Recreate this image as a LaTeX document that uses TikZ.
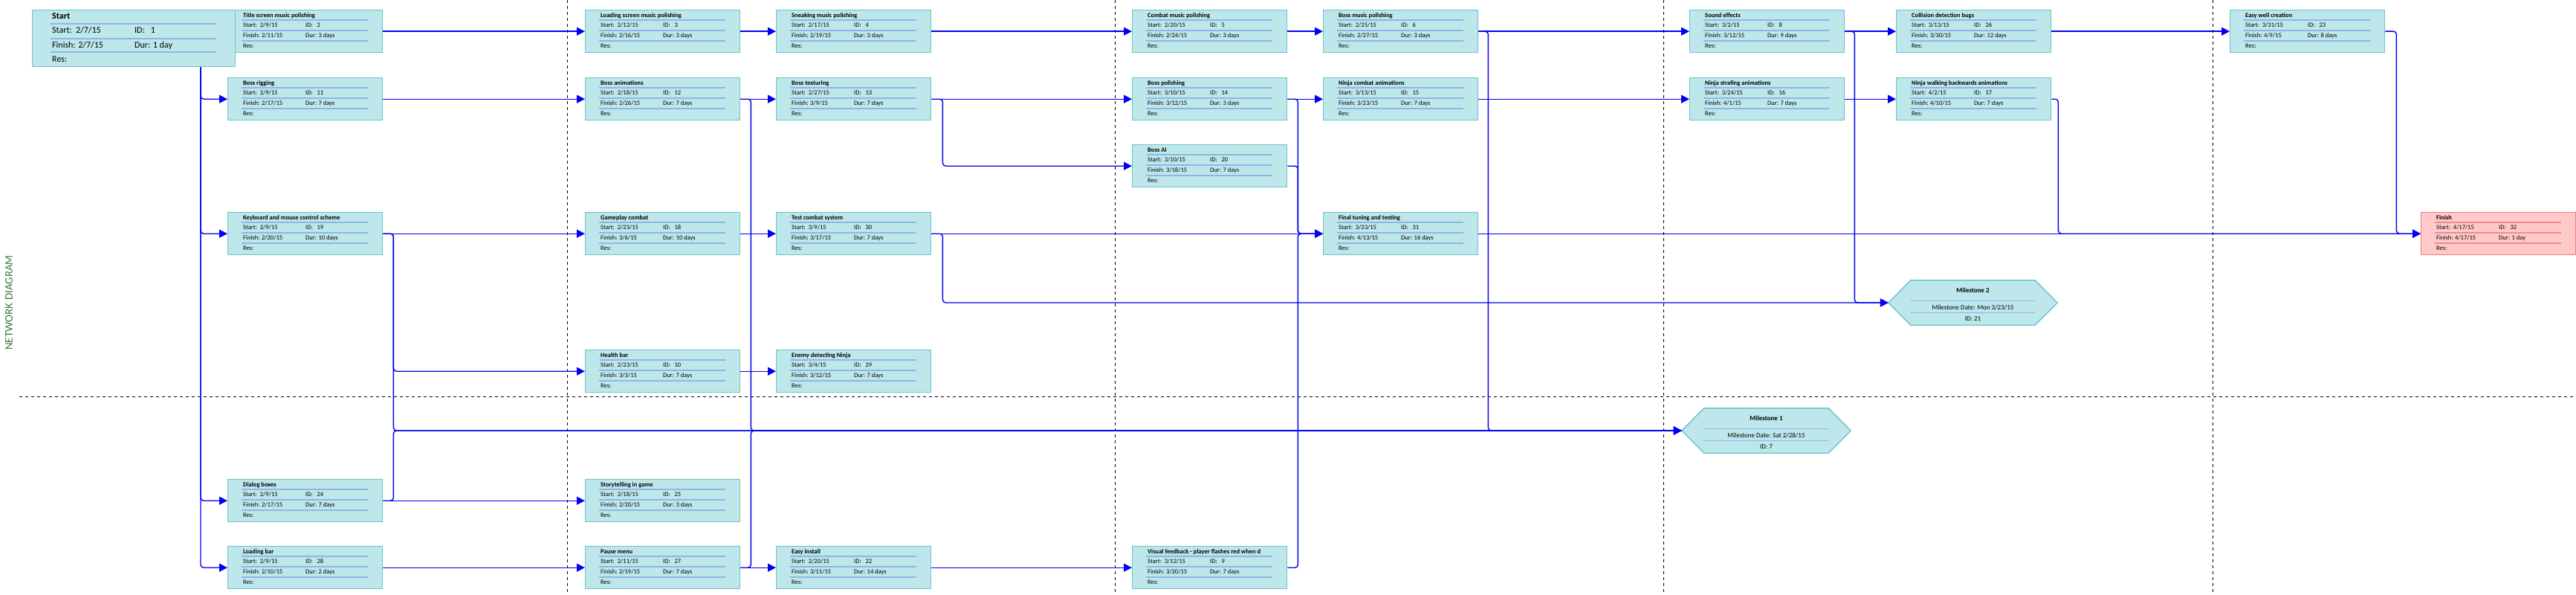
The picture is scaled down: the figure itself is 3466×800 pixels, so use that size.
\documentclass[tikz,border=0pt]{standalone}
\usepackage{fontspec}
\setmainfont{Carlito}
\usetikzlibrary{arrows.meta,calc}
\definecolor{tfill}{HTML}{BDE7EA}
\definecolor{tline}{HTML}{6CC4C8}
\definecolor{tsep}{HTML}{8DB6E6}
\definecolor{ffill}{HTML}{FFC9C9}
\definecolor{fline}{HTML}{F07F7F}
\definecolor{fsep}{HTML}{F08A8A}
\definecolor{cblue}{HTML}{0000F0}
\definecolor{titlegreen}{HTML}{3B7D3A}
\tikzset{
 task/.style={draw=tline, fill=tfill, line width=1.4pt, minimum width=208pt, minimum height=57pt, inner sep=0pt, anchor=north west},
 tasksep/.style={draw=tsep, line width=1.1pt},
 fin/.style={task, draw=fline, fill=ffill},
 finsep/.style={draw=fsep, line width=1.1pt},
 txt/.style={inner sep=0pt, anchor=west, font=\fontsize{8.5}{9}\selectfont, text height=5.9pt, text depth=1.6pt},
 ttl/.style={txt, font=\fontsize{8.5}{9}\selectfont\bfseries},
 stxt/.style={inner sep=0pt, anchor=west, font=\fontsize{12}{13}\selectfont, text height=8.4pt, text depth=2.4pt},
 sttl/.style={stxt, font=\fontsize{12}{13}\selectfont\bfseries},
 startbox/.style={task, minimum width=273pt, minimum height=76pt},
 msbox/.style={minimum width=227pt, minimum height=60pt, inner sep=0pt},
 msshape/.style={draw=tline, fill=tfill, line width=1.4pt},
 mstxt/.style={inner sep=0pt, anchor=center, font=\fontsize{9}{10}\selectfont, text height=6.3pt, text depth=1.7pt},
 conn/.style={draw=cblue, line width=1.4pt, rounded corners=4pt, -{Triangle[length=11pt,width=11pt]}},
 brk/.style={draw=black, line width=1pt, dash pattern=on 4pt off 4pt},
}
\newcommand\taskbox[9][task]{%
  \node[#1] (#2) at (#3,#4) {};
  \draw[#1sep] ($(#2.north west)+(19,14)$) -- ++(170,0)
               ($(#2.north west)+(19,28)$) -- ++(170,0)
               ($(#2.north west)+(19,42)$) -- ++(170,0);
  \node[ttl] (#2-t) at ($(#2.north west)+(21,8)$) {#5};
  \node[txt] (#2-s) at ($(#2.north west)+(21,21.5)$) {Start:~~#6};
  \node[txt] (#2-i) at ($(#2.north west)+(105,21.5)$) {ID:~~~#7};
  \node[txt] (#2-f) at ($(#2.north west)+(21,35.5)$) {Finish: #8};
  \node[txt] (#2-d) at ($(#2.north west)+(105,35.5)$) {Dur: #9};
  \node[txt] (#2-r) at ($(#2.north west)+(21,49.5)$) {Res:};
}
\newcommand\msnode[5]{% name, x, y, title, date
  \node[msbox] (#1) at (#2,#3) {};
  \draw[msshape] (#1.west) -- ($(#1.north west)+(30,0)$) -- ($(#1.north east)+(-30,0)$) -- (#1.east)
      -- ($(#1.south east)+(-30,0)$) -- ($(#1.south west)+(30,0)$) -- cycle;
  \draw[tasksep] ($(#1.north west)+(30,28)$) -- ($(#1.north east)+(-30,28)$)
                 ($(#1.north west)+(30,44)$) -- ($(#1.north east)+(-30,44)$);
  \node[mstxt, font=\fontsize{9}{10}\selectfont\bfseries] (#1-t) at ($(#1.north)+(0,14)$) {#4};
  \node[mstxt] (#1-d) at ($(#1.north)+(0,37)$) {#5};
}
\begin{document}
\begin{tikzpicture}[x=1pt,y=-1pt]
\useasboundingbox (0,0) rectangle (3466,800);
\fill[white] (0,0) rectangle (3466,800);
% page breaks
\foreach \x in {763,1500,2238,2977} \draw[brk] (\x,0) -- (\x,800);
\draw[brk] (26,533) -- (3466,533);
\node[rotate=90, text=titlegreen, font=\fontsize{15}{15}\selectfont, inner sep=0pt] (title) at (12,407) {NETWORK DIAGRAM};
% tasks
\taskbox{t2}{306}{13}{Title screen music polishing}{2/9/15}{2}{2/11/15}{3 days}
\node[startbox] (start) at (43,13) {};
\draw[tasksep] ($(start.north west)+(25,19)$) -- ++(223,0)
               ($(start.north west)+(25,39)$) -- ++(223,0)
               ($(start.north west)+(25,57)$) -- ++(223,0);
\node[sttl] (start-t) at ($(start.north west)+(27,10)$) {Start};
\node[stxt] (start-s) at ($(start.north west)+(27,29)$) {Start:~~2/7/15};
\node[stxt] (start-i) at ($(start.north west)+(138,29)$) {ID:~~~1};
\node[stxt] (start-f) at ($(start.north west)+(27,48)$) {Finish: 2/7/15};
\node[stxt] (start-d) at ($(start.north west)+(138,48)$) {Dur: 1 day};
\node[stxt] (start-r) at ($(start.north west)+(27,67)$) {Res:};
\taskbox{t3}{787}{13}{Loading screen music polishing}{2/12/15}{3}{2/16/15}{3 days}
\taskbox{t4}{1044}{13}{Sneaking music polishing}{2/17/15}{4}{2/19/15}{3 days}
\taskbox{t5}{1523}{13}{Combat music polishing}{2/20/15}{5}{2/24/15}{3 days}
\taskbox{t6}{1780}{13}{Boss music polishing}{2/25/15}{6}{2/27/15}{3 days}
\taskbox{t8}{2273}{13}{Sound effects}{3/2/15}{8}{3/12/15}{9 days}
\taskbox{t26}{2551}{13}{Collision detection bugs}{3/13/15}{26}{3/30/15}{12 days}
\taskbox{t23}{3000}{13}{Easy well creation}{3/31/15}{23}{4/9/15}{8 days}
\taskbox{t11}{306}{104}{Boss rigging}{2/9/15}{11}{2/17/15}{7 days}
\taskbox{t12}{787}{104}{Boss animations}{2/18/15}{12}{2/26/15}{7 days}
\taskbox{t13}{1044}{104}{Boss texturing}{2/27/15}{13}{3/9/15}{7 days}
\taskbox{t14}{1523}{104}{Boss polishing}{3/10/15}{14}{3/12/15}{3 days}
\taskbox{t15}{1780}{104}{Ninja combat animations}{3/13/15}{15}{3/23/15}{7 days}
\taskbox{t16}{2273}{104}{Ninja strafing animations}{3/24/15}{16}{4/1/15}{7 days}
\taskbox{t17}{2551}{104}{Ninja walking backwards animations}{4/2/15}{17}{4/10/15}{7 days}
\taskbox{t20}{1523}{194}{Boss AI}{3/10/15}{20}{3/18/15}{7 days}
\taskbox{t19}{306}{285}{Keyboard and mouse control scheme}{2/9/15}{19}{2/20/15}{10 days}
\taskbox{t18}{787}{285}{Gameplay combat}{2/23/15}{18}{3/6/15}{10 days}
\taskbox{t30}{1044}{285}{Test combat system}{3/9/15}{30}{3/17/15}{7 days}
\taskbox{t31}{1780}{285}{Final tuning and testing}{3/23/15}{31}{4/13/15}{16 days}
\taskbox[fin]{t32}{3257}{285}{Finish}{4/17/15}{32}{4/17/15}{1 day}
\taskbox{t10}{787}{470}{Health bar}{2/23/15}{10}{3/3/15}{7 days}
\taskbox{t29}{1044}{470}{Enemy detecting Ninja}{3/4/15}{29}{3/12/15}{7 days}
\taskbox{t24}{306}{644}{Dialog boxes}{2/9/15}{24}{2/17/15}{7 days}
\taskbox{t25}{787}{644}{Storytelling in game}{2/18/15}{25}{2/20/15}{3 days}
\taskbox{t28}{306}{734}{Loading bar}{2/9/15}{28}{2/10/15}{2 days}
\taskbox{t27}{787}{734}{Pause menu}{2/11/15}{27}{2/19/15}{7 days}
\taskbox{t22}{1044}{734}{Easy install}{2/20/15}{22}{3/11/15}{14 days}
\taskbox{t9}{1523}{734}{Visual feedback - player flashes red when d}{3/12/15}{9}{3/20/15}{7 days}
% milestones
\msnode{ms1}{2376.5}{579}{Milestone 1}{Milestone Date: Sat 2/28/15}
\node[mstxt] (ms1-i) at ($(ms1.north)+(0,52)$) {ID: 7};
\msnode{ms2}{2654.5}{407}{Milestone 2}{Milestone Date: Mon 3/23/15}
\node[mstxt] (ms2-i) at ($(ms2.north)+(0,52)$) {ID: 21};
% connectors
\coordinate (sdrop) at ($(start.south west)+(227,0)$);
\foreach \n in {t11,t19,t24,t28} \draw[conn] (sdrop) |- (\n.west);
\foreach \a/\b in {t2/t3,t3/t4,t4/t5,t5/t6,t6/t8,t8/t26,t26/t23,t11/t12,t12/t13,t13/t14,t14/t15,t15/t16,t16/t17,t19/t18,t18/t30,t30/t31,t31/t32,t10/t29,t24/t25,t28/t27,t27/t22,t22/t9}
  \draw[conn] (\a.east) -- (\b.west);
\foreach \a/\d/\b in {t19/14/ms1,t19/14/t10,t24/14/ms1,t12/14/ms1,t27/14/ms1,t6/13/ms1,t13/15/t20,t30/15/ms2,t8/13/ms2,t14/14/t31,t20/14/t31,t9/14/t31,t23/15/t32,t17/9/t32}
  \draw[conn] (\a.east) -- ++(\d,0) |- (\b.west);
\end{tikzpicture}
\end{document}
